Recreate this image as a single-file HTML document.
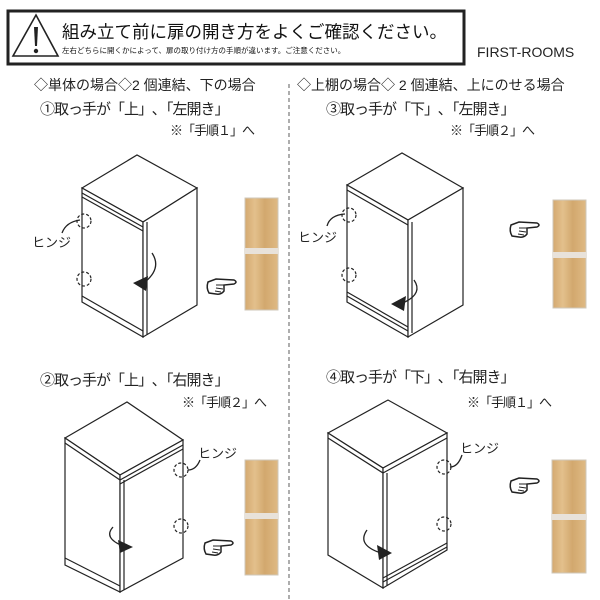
<!DOCTYPE html>
<html><head><meta charset="utf-8"><style>
body{margin:0;background:#fff;width:600px;height:600px;overflow:hidden;position:relative;font-family:"Liberation Sans","Noto Sans CJK JP",sans-serif;}
.t{position:absolute;white-space:nowrap;color:#222;}
.s{letter-spacing:-1px}
</style></head><body>
<svg width="600" height="600" style="position:absolute;left:0;top:0" xmlns="http://www.w3.org/2000/svg">
<defs>
<linearGradient id="wd" x1="0" x2="1"><stop offset="0" stop-color="#d4a970"/><stop offset="0.3" stop-color="#e3c08c"/><stop offset="0.6" stop-color="#d2a86e"/><stop offset="1" stop-color="#dfba84"/></linearGradient>
<g id="hand"><path d="M2 3 L10 0 L28 1 Q32 3 28 5 L18 6 L18 12 Q15 16 10 15 L3 14 Q0 9 2 3 Z" fill="#fff" stroke="#222" stroke-width="1.5"/><path d="M10 6 L18 6 M10 9 L17 10 M9 12 L15 13" stroke="#222" stroke-width="1" fill="none"/></g>
</defs>
<rect x="8" y="11" width="456" height="53" fill="#fff" stroke="#222" stroke-width="3"/>
<path d="M36 15 L58 56 L13 56 Z" fill="#fff" stroke="#222" stroke-width="1.6"/>
<path d="M34 27 L38 27 L37 46 L35 46 Z" fill="#222"/><circle cx="36" cy="51" r="2.2" fill="#222"/>
<line x1="289" y1="84" x2="289" y2="600" stroke="#777" stroke-dasharray="4,3" stroke-width="1.2"/>
<g fill="#fff" stroke="#222" stroke-width="1.2">
<polygon points="82,188 137,155 197,188 143,222"/>
<polygon points="82,188 143,222 143,337 82,302"/>
<polygon points="143,222 197,188 197,305 143,337"/>
<line x1="82" y1="193" x2="143" y2="227"/><line x1="82" y1="197" x2="143" y2="231"/>
<line x1="82" y1="296" x2="143" y2="331"/><line x1="147" y1="222" x2="147" y2="335"/>
<polygon points="347,185 402,153 463,188 408,220"/>
<polygon points="347,185 408,220 408,337 347,302"/>
<polygon points="408,220 463,188 463,305 408,337"/>
<line x1="347" y1="190" x2="408" y2="225"/><line x1="347" y1="292" x2="408" y2="327"/><line x1="347" y1="296" x2="408" y2="331"/><line x1="412" y1="222" x2="412" y2="333"/>
<polygon points="65,438 127,402 183,440 120,475"/>
<polygon points="65,438 120,475 120,592 65,565"/>
<polygon points="120,475 183,440 183,558 120,592"/>
<line x1="120" y1="480" x2="183" y2="445"/><line x1="120" y1="484" x2="183" y2="449"/><line x1="65" y1="443" x2="120" y2="480"/><line x1="65" y1="558" x2="120" y2="586"/><line x1="124" y1="480" x2="124" y2="590"/>
<polygon points="328,433 388,400 447,433 383,468"/>
<polygon points="328,433 383,468 383,588 328,555"/>
<polygon points="383,468 447,433 447,550 383,588"/>
<line x1="328" y1="438" x2="383" y2="473"/><line x1="383" y1="473" x2="447" y2="438"/><line x1="383" y1="578" x2="447" y2="543"/><line x1="383" y1="582" x2="447" y2="547"/><line x1="387" y1="473" x2="387" y2="586"/>
</g>
<g fill="none" stroke="#222" stroke-width="1.2" stroke-dasharray="3,2">
<circle cx="84" cy="221" r="7"/><circle cx="84" cy="279" r="7"/>
<circle cx="349" cy="215" r="7"/><circle cx="349" cy="275" r="7"/>
<circle cx="181" cy="470" r="7"/><circle cx="181" cy="526" r="7"/>
<circle cx="444" cy="467" r="7"/><circle cx="444" cy="524" r="7"/>
</g>
<g fill="none" stroke="#222" stroke-width="1.3">
<path d="M152 253 Q162 268 145 282"/><path d="M414 280 Q423 293 405 302"/>
<path d="M113 527 Q103 538 123 546"/><path d="M367 530 Q357 544 378 552"/>
<path d="M80 220 Q66 222 62 233"/><path d="M345 214 Q330 215 327 226"/>
<path d="M188 470 Q196 470 200 460"/><path d="M450 467 Q458 467 462 455"/>
</g>
<g fill="#222"><path d="M133 283 L148 276 L146 291 Z"/><path d="M391 304 L406 296 L404 311 Z"/><path d="M133 547 L118 540 L120 553 Z"/><path d="M392 553 L377 545 L379 560 Z"/></g>
<g>
<rect x="245" y="198" width="33" height="112" fill="url(#wd)" stroke="#cfc7ba"/><rect x="245" y="248" width="33" height="6" fill="#e8e2da"/>
<rect x="553" y="200" width="33" height="108" fill="url(#wd)" stroke="#cfc7ba"/><rect x="553" y="252" width="33" height="6" fill="#e8e2da"/>
<rect x="245" y="460" width="33" height="115" fill="url(#wd)" stroke="#cfc7ba"/><rect x="245" y="513" width="33" height="6" fill="#e8e2da"/>
<rect x="552" y="460" width="34" height="113" fill="url(#wd)" stroke="#cfc7ba"/><rect x="552" y="514" width="34" height="6" fill="#e8e2da"/>
</g>
<use href="#hand" x="206" y="279"/><use href="#hand" x="509" y="222"/><use href="#hand" x="203" y="540"/><use href="#hand" x="509" y="478"/>
</svg>
<div class="t" style="left:62px;top:19px;font-size:17.5px;color:#111">組み立て前に扉の開き方をよくご確認ください。</div>
<div class="t" style="left:62px;top:45px;font-size:7.5px;color:#111">左右どちらに開くかによって、扉の取り付け方の手順が違います。ご注意ください。</div>
<div class="t" style="left:477px;top:44px;font-size:14px">FIRST-ROOMS</div>
<div class="t" style="left:34px;top:75px;font-size:14px">◇単体の場合◇2 個連結、下の場合</div>
<div class="t" style="left:297px;top:75px;font-size:14px">◇上棚の場合◇ 2 個連結、上にのせる場合</div>
<div class="t s" style="left:40px;top:98px;font-size:15px">①取っ手が「上」､「左開き」</div>
<div class="t s" style="left:326px;top:98px;font-size:15px">③取っ手が「下」､「左開き」</div>
<div class="t s" style="left:170px;top:120px;font-size:13px">※「手順１」へ</div>
<div class="t s" style="left:450px;top:120px;font-size:13px">※「手順２」へ</div>
<div class="t s" style="left:40px;top:369px;font-size:15px">②取っ手が「上」､「右開き」</div>
<div class="t s" style="left:326px;top:366px;font-size:15px">④取っ手が「下」､「右開き」</div>
<div class="t s" style="left:182px;top:392px;font-size:13px">※「手順２」へ</div>
<div class="t s" style="left:467px;top:392px;font-size:13px">※「手順１」へ</div>
<div class="t" style="left:32px;top:232px;font-size:13px">ヒンジ</div>
<div class="t" style="left:298px;top:227px;font-size:13px">ヒンジ</div>
<div class="t" style="left:198px;top:443px;font-size:13px">ヒンジ</div>
<div class="t" style="left:460px;top:438px;font-size:13px">ヒンジ</div>
</body></html>
